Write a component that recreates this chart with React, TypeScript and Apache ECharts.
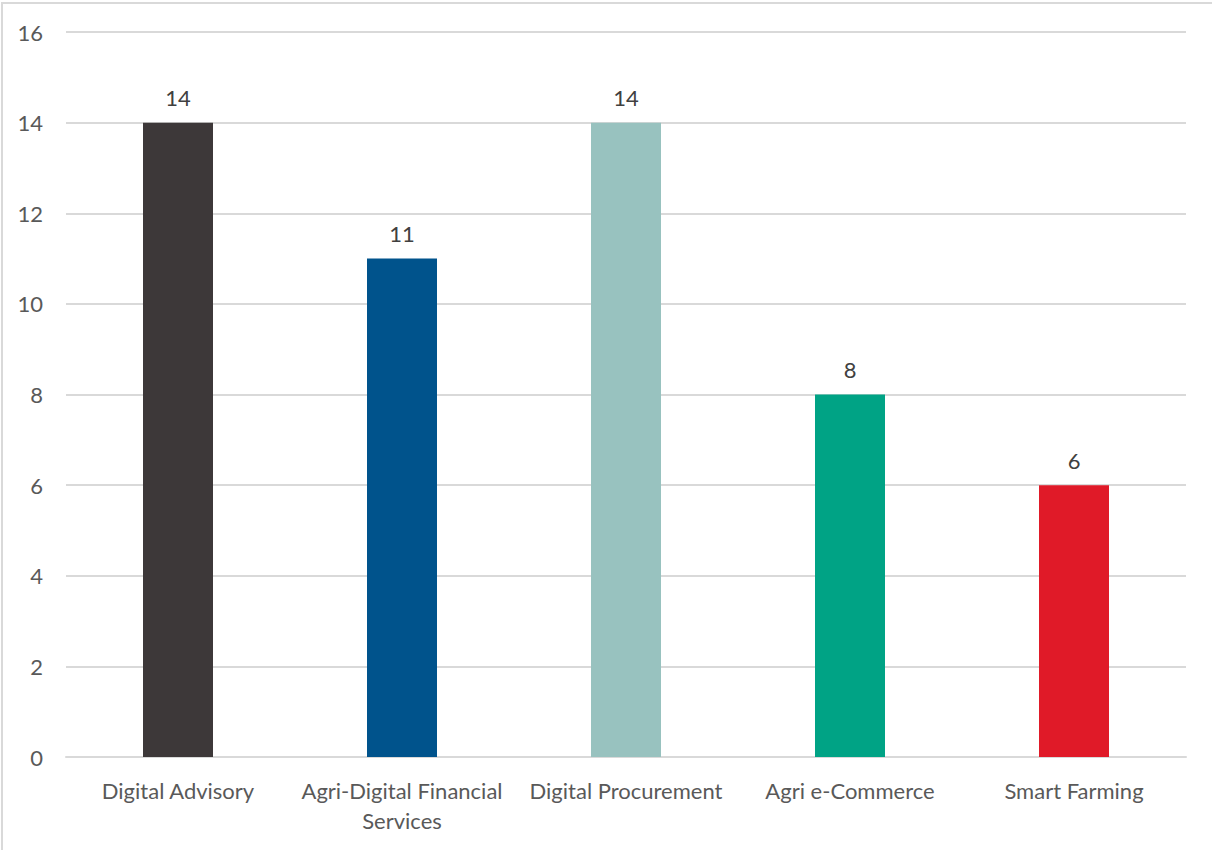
import React, { useEffect, useRef } from "react";
import * as echarts from "echarts";

const categories = [
  "Digital Advisory",
  "Agri-Digital Financial\nServices",
  "Digital Procurement",
  "Agri e-Commerce",
  "Smart Farming",
];
const values = [14, 11, 14, 8, 6];
const barColors = ["#3d3839", "#00538c", "#98c2bf", "#00a385", "#e01a28"];

export default function App() {
  const ref = useRef<HTMLDivElement>(null);
  useEffect(() => {
    if (!ref.current) return;
    const chart = echarts.init(ref.current, undefined, { renderer: "svg" });
    chart.setOption({
      animation: false,
      backgroundColor: "transparent",
      grid: { left: 66, right: 26, top: 32, bottom: 93, containLabel: false },
      xAxis: {
        type: "category",
        data: categories,
        axisLine: { lineStyle: { color: "#d9d9d9", width: 2 } },
        axisTick: { show: false },
        axisLabel: {
          color: "#595959",
          fontSize: 22,
          fontFamily: "Lato",
          margin: 18,
          lineHeight: 30,
          interval: 0,
        },
      },
      yAxis: {
        type: "value",
        min: 0,
        max: 16,
        interval: 2,
        axisLine: { show: false },
        axisTick: { show: false },
        splitLine: { lineStyle: { color: "#d9d9d9", width: 2 } },
        axisLabel: { color: "#595959", fontSize: 22, fontFamily: "Lato", margin: 23 },
      },
      series: [
        {
          type: "bar",
          barWidth: 70,
          data: values.map((v, i) => ({ value: v, itemStyle: { color: barColors[i] } })),
          label: {
            show: true,
            position: "top",
            distance: 14,
            color: "#404040",
            fontSize: 22,
            fontFamily: "Lato",
          },
        },
      ],
    });
    return () => chart.dispose();
  }, []);
  return (
    <div
      style={{
        position: "absolute",
        left: 0,
        top: 0,
        width: 1212,
        height: 850,
        background: "#fff",
        overflow: "hidden",
      }}
    >
      <div ref={ref} style={{ position: "absolute", left: 0, top: 0, width: 1212, height: 850 }} />
      <div
        style={{
          position: "absolute",
          left: 1,
          top: 2,
          width: 1240,
          height: 880,
          border: "2px solid #d9d9d9",
          boxSizing: "border-box",
          pointerEvents: "none",
        }}
      />
    </div>
  );
}
